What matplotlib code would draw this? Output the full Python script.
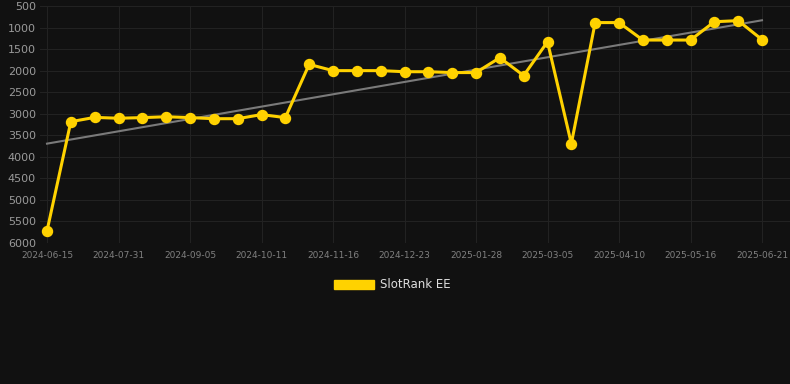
import numpy as np
import matplotlib
matplotlib.use("Agg")
import matplotlib.pyplot as plt
from matplotlib.patches import Patch

tick_labels = ["2024-06-15", "2024-07-31", "2024-09-05", "2024-10-11", "2024-11-16",
               "2024-12-23", "2025-01-28", "2025-03-05", "2025-04-10", "2025-05-16",
               "2025-06-21"]
rank = [5720, 3185, 3085, 3105, 3090, 3070, 3090, 3115, 3115, 3020, 3090,
        1855, 2000, 2000, 2000, 2025, 2025, 2045, 2045, 1700, 2115, 1330,
        3695, 885, 885, 1290, 1290, 1290, 865, 840, 1280]
series_name = "SlotRank EE"

BG = "#111111"
GOLD = "#FFD200"

fig = plt.figure(figsize=(7.9, 3.84), dpi=100, facecolor=BG)
ax = fig.add_axes([40/790, 1-243/384, 750/790, 237/384], facecolor=BG)

x = np.arange(len(rank))
y = np.array(rank, dtype=float)

# trend line (linear regression)
coef = np.polyfit(x, y, 1)
ax.plot([x[0], x[-1]], np.polyval(coef, [x[0], x[-1]]), color="#7a7a7a", lw=1.5, zorder=2)

ax.plot(x, y, color=GOLD, lw=2.2, marker="o", markersize=7.2, zorder=3)

ax.set_ylim(6000, 500)
ax.set_yticks(np.arange(500, 6001, 500))
px = 715/30
ax.set_xlim(-7/px, 30 + 28/px)
tick_pos = np.arange(0, len(rank), 3)
ax.set_xticks(tick_pos)
ax.set_xticklabels(tick_labels)

ax.grid(True, color="#222222", lw=0.8, zorder=0)
for s in ax.spines.values():
    s.set_visible(False)
ax.tick_params(axis="y", colors="#9a9a9a", labelsize=8, length=0, pad=3)
ax.tick_params(axis="x", colors="#808080", labelsize=6.5, length=0, pad=6)
for lab in ax.get_yticklabels():
    lab.set_color("#9a9a9a")
for lab in ax.get_xticklabels():
    lab.set_color("#808080")

handle = Patch(facecolor=GOLD, edgecolor=GOLD)
leg = fig.legend([handle], [series_name], loc="center", bbox_to_anchor=(392/790, 1-285/384),
                 frameon=False, fontsize=8.5, handlelength=3.4, handleheight=0.9,
                 handletextpad=0.5, labelcolor="#dddddd")

fig.savefig("out.png", dpi=100, facecolor=BG)
